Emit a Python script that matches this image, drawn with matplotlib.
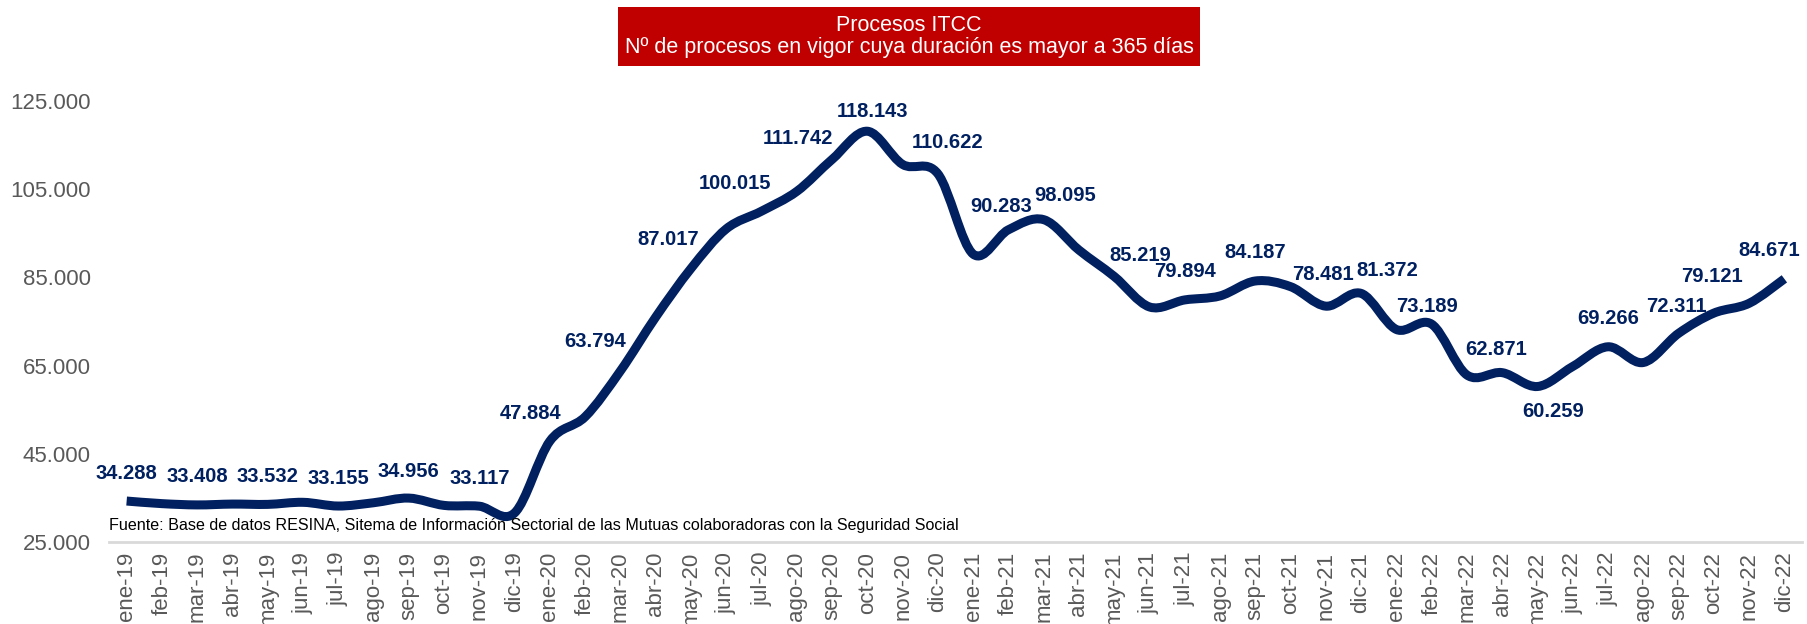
import matplotlib
matplotlib.use("Agg")
import matplotlib.pyplot as plt
import numpy as np
from matplotlib.path import Path
from matplotlib.patches import PathPatch, Rectangle
from matplotlib.ticker import FuncFormatter

plt.rcParams['font.family'] = ['Liberation Sans', 'DejaVu Sans']

meses = ['ene', 'feb', 'mar', 'abr', 'may', 'jun', 'jul', 'ago', 'sep', 'oct', 'nov', 'dic']
years = ['19', '20', '21', '22']
categories = [m + '-' + y for y in years for m in meses]

# procesos en vigor > 365 dias (unlabelled months)
procesos = [34288, 33700, 33408, 33600, 33532, 34000, 33155, 33900, 34956, 33300, 33117, 31600,
            47884, 53400, 63794, 76000, 87017, 96000, 100015, 104500, 111742, 118143, 110622, 108500,
            90283, 95800, 98095, 91200, 85219, 78300, 79894, 80800, 84187, 82900, 78481, 81372,
            73189, 74400, 62871, 63400, 60259, 64800, 69266, 65700, 72311, 76900, 79121, 84671]

labeled = [0, 2, 4, 6, 8, 10, 12, 14, 16, 18, 20, 21, 22, 24, 26, 28, 30, 32, 34, 35,
           36, 38, 40, 42, 44, 46, 47]
# label offsets in pixels (dx, dy) from each point
label_off = [(0, 28), (0, 28), (0, 28), (0, 28), (0, 27), (0, 28), (-19, 28), (-25, 29),
             (-23, 29), (-27, 28), (-34, 21), (5, 20), (45, 22), (28, 48), (21, 24), (26, 21),
             (0, 28), (0, 28), (-3, 32), (26, 23), (31, 23), (29, 25), (16, -25), (0, 28),
             (-2, 27), (-37, 27), (-15, 28)]

navy = '#002060'
grey = '#595959'

fig = plt.figure(figsize=(18.07, 6.24), dpi=100)
ax = fig.add_axes([109 / 1807, 1 - 542 / 624, (1802 - 109) / 1807, (542 - 101) / 624])

x = np.arange(len(procesos))
y = np.array(procesos, dtype=float)

# smoothed line like excel (catmull-rom as bezier segments)
verts = [(x[0], y[0])]
codes = [Path.MOVETO]
n = len(x)
for i in range(n - 1):
    p0 = np.array([x[max(i - 1, 0)], y[max(i - 1, 0)]])
    p1 = np.array([x[i], y[i]])
    p2 = np.array([x[i + 1], y[i + 1]])
    p3 = np.array([x[min(i + 2, n - 1)], y[min(i + 2, n - 1)]])
    c1 = p1 + (p2 - p0) / 6
    c2 = p2 - (p3 - p1) / 6
    verts += [tuple(c1), tuple(c2), tuple(p2)]
    codes += [Path.CURVE4] * 3
ax.add_patch(PathPatch(Path(verts, codes), fill=False, edgecolor=navy, lw=6.5,
                       capstyle='butt', joinstyle='round'))

def fmt(v):
    return f"{v:,.0f}".replace(",", ".")

for k, i in enumerate(labeled):
    dx, dy = label_off[k]
    ax.annotate(fmt(procesos[i]), (x[i], y[i]), xytext=(dx, dy), textcoords='offset pixels',
                ha='center', va='center', fontsize=14.5, fontweight='bold', color=navy,
                annotation_clip=False)

ax.set_xlim(-0.5, len(procesos) - 0.5)
ax.set_ylim(25000, 125000)
ax.set_yticks([25000, 45000, 65000, 85000, 105000, 125000])
ax.yaxis.set_major_formatter(FuncFormatter(lambda v, p: fmt(v)))
ax.set_xticks(x)
ax.set_xticklabels(categories, rotation=90)
ax.tick_params(axis='y', length=0, pad=13, labelsize=16, labelcolor=grey)
ax.tick_params(axis='x', length=0, pad=7, labelsize=16, labelcolor=grey)
for s in ['top', 'right', 'left']:
    ax.spines[s].set_visible(False)
ax.spines['bottom'].set_color('#D9D9D9')
ax.spines['bottom'].set_linewidth(2)

ax.text(0.0, 0.02, 'Fuente: Base de datos RESINA, Sitema de Información Sectorial de las Mutuas '
        'colaboradoras con la Seguridad Social', transform=ax.transAxes, fontsize=11.6,
        color='black', ha='left', va='bottom')

# title box
fig.patches.append(Rectangle((618 / 1807, 1 - 66 / 624), 582 / 1807, 59 / 624,
                             transform=fig.transFigure, facecolor='#C00000', edgecolor='none'))
fig.text(909 / 1807, 1 - 36.5 / 624, 'Procesos ITCC\nNº de procesos en vigor cuya duración es mayor a 365 días',
         ha='center', va='center', color='white', fontsize=15.5, linespacing=1.1)

fig.savefig('out.png', dpi=100)
